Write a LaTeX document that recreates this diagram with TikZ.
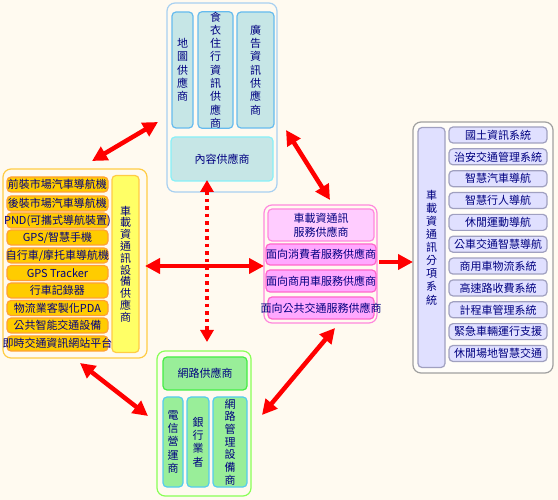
\documentclass[tikz,border=0pt]{standalone}
\usepackage{fontspec}
\setmainfont{Noto Sans CJK TC}
\usetikzlibrary{arrows.meta}
\definecolor{bg}{HTML}{FFFAF0}
\definecolor{txt}{HTML}{000080}
\definecolor{tOut}{HTML}{A8D0F0}
\definecolor{tFill}{HTML}{C6E6E6}
\definecolor{tDraw}{HTML}{66BBEE}
\definecolor{tDraw2}{HTML}{88F0F8}
\definecolor{lOut}{HTML}{FFCC44}
\definecolor{lFill}{HTML}{FFCC00}
\definecolor{lDraw}{HTML}{FFA033}
\definecolor{lvFill}{HTML}{FFFF66}
\definecolor{pOut}{HTML}{FF88DD}
\definecolor{pFillA}{HTML}{FFCCFF}
\definecolor{pFillB}{HTML}{FFA8FF}
\definecolor{pDraw}{HTML}{FF66CC}
\definecolor{rOut}{HTML}{A0A0A0}
\definecolor{rFill}{HTML}{E0E0FF}
\definecolor{rDraw}{HTML}{A0A0C0}
\definecolor{bOut}{HTML}{88FF55}
\definecolor{bFill}{HTML}{99EE99}
\definecolor{bDraw}{HTML}{44EE44}
\definecolor{bDraw2}{HTML}{55CCEE}
\tikzset{
  box/.style={rectangle, rounded corners=4pt, line width=1.2pt, inner sep=0pt, text=txt, align=center,
    font=\fontsize{11pt}{13.3pt}\selectfont},
  outer/.style={rectangle, rounded corners=8pt, line width=1.2pt, inner sep=0pt, fill=bg},
  topbox/.style={box, fill=tFill, draw=tDraw},
  leftitem/.style={box, fill=lFill, draw=lDraw, minimum width=101pt, minimum height=15pt},
  pinkbox/.style={box, fill=pFillB, draw=pDraw, minimum width=106pt},
  rightitem/.style={box, fill=rFill, draw=rDraw, minimum width=98pt, minimum height=16pt},
  botbox/.style={box, fill=bFill, draw=bDraw2},
  bigarrow/.style={draw=red, line width=4.5pt, {Triangle[length=15pt,width=15pt]}-{Triangle[length=15pt,width=15pt]}},
  onearrow/.style={draw=red, line width=4.5pt, -{Triangle[length=15pt,width=15pt]}},
  dotarrow/.style={draw=red, line width=4pt, dash pattern=on 3.5pt off 4pt, {Triangle[length=12pt,width=13pt]}-{Triangle[length=12pt,width=13pt]}}
}
\begin{document}
\begin{tikzpicture}[x=1pt,y=-1pt]
\useasboundingbox[fill=bg] (0,0) rectangle (558,500);

% top group
\node[outer, draw=tOut, minimum width=110pt, minimum height=189pt] (T) at (222,97.5) {};
\node[topbox, minimum width=21pt, minimum height=116pt] (map) at (182.5,70) {地\\圖\\供\\應\\商};
\node[topbox, minimum width=35pt, minimum height=116pt] (food) at (215.5,70) {食\\衣\\住\\行\\資\\訊\\供\\應\\商};
\node[topbox, minimum width=37pt, minimum height=116pt] (ad) at (255.5,70) {廣\\告\\資\\訊\\供\\應\\商};
\node[topbox, draw=tDraw2, minimum width=102pt, minimum height=44pt] (content) at (222,159) {內容供應商};

% left group
\node[outer, draw=lOut, minimum width=144pt, minimum height=189pt] (L) at (75,263.5) {};
\node[box, fill=lvFill, draw=lOut, minimum width=27pt, minimum height=177pt,
  font=\fontsize{11pt}{11.8pt}\selectfont] (dev) at (125.5,264) {車\\載\\資\\通\\訊\\設\\備\\供\\應\\商};
\node[leftitem] (l1) at (57.5,184.5) {前裝市場汽車導航機};
\node[leftitem] (l2) at (57.5,203.5) {後裝市場汽車導航機};
\node[leftitem] (l3) at (57.5,220.5) {\makebox[0pt]{PND(可攜式導航裝置)}};
\node[leftitem] (l4) at (57.5,237.5) {GPS/智慧手機};
\node[leftitem] (l5) at (57.5,255.5) {\makebox[0pt]{自行車/摩托車導航機}};
\node[leftitem] (l6) at (57.5,273) {GPS Tracker};
\node[leftitem] (l7) at (57.5,290.5) {行車記錄器};
\node[leftitem] (l8) at (57.5,308) {物流業客製化PDA};
\node[leftitem] (l9) at (57.5,325.5) {公共智能交通設備};
\node[leftitem] (l10) at (57.5,343.5) {\makebox[0pt]{即時交通資訊網站平台}};

% pink group
\node[outer, draw=pOut, minimum width=113pt, minimum height=118pt] (P) at (320.5,264) {};
\node[pinkbox, fill=pFillA, draw=pOut, minimum height=32pt, font=\fontsize{11pt}{14pt}\selectfont] (svc) at (321,225) {車載資通訊\\服務供應商};
\node[pinkbox, minimum height=21pt] (p2) at (321,254.5) {面向消費者服務供應商};
\node[pinkbox, minimum height=22pt] (p3) at (321,281) {面向商用車服務供應商};
\node[pinkbox, minimum height=22pt] (p4) at (321,308) {\makebox[0pt]{面向公共交通服務供應商}};

% right group
\node[outer, draw=rOut, fill=white!60!bg, minimum width=140pt, minimum height=251pt] (R) at (483,247.5) {};
\node[box, fill=rFill, draw=rDraw, minimum width=27pt, minimum height=240pt,
  font=\fontsize{11pt}{13.1pt}\selectfont] (sub) at (431.5,247.5) {車\\載\\資\\通\\訊\\分\\項\\系\\統};
\node[rightitem] (r1) at (498,135) {國土資訊系統};
\node[rightitem] (r2) at (498,156.85) {治安交通管理系統};
\node[rightitem] (r3) at (498,178.7) {智慧汽車導航};
\node[rightitem] (r4) at (498,200.55) {智慧行人導航};
\node[rightitem] (r5) at (498,222.4) {休閒運動導航};
\node[rightitem] (r6) at (498,244.25) {公車交通智慧導航};
\node[rightitem] (r7) at (498,266.1) {商用車物流系統};
\node[rightitem] (r8) at (498,287.95) {高速路收費系統};
\node[rightitem] (r9) at (498,309.8) {計程車管理系統};
\node[rightitem] (r10) at (498,331.65) {緊急車輛運行支援};
\node[rightitem] (r11) at (498,353.5) {休閒場地智慧交通};

% bottom group
\node[outer, draw=bOut, minimum width=94pt, minimum height=145pt] (B) at (204,423.5) {};
\node[box, fill=bFill, draw=bDraw, minimum width=84pt, minimum height=33pt] (net) at (205,373.5) {網路供應商};
\node[botbox, minimum width=20pt, minimum height=90pt] (tel) at (173,442) {電\\信\\營\\運\\商};
\node[botbox, minimum width=22pt, minimum height=90pt] (bank) at (198,442) {銀\\行\\業\\者};
\node[botbox, minimum width=34pt, minimum height=90pt, font=\fontsize{11pt}{12.7pt}\selectfont] (mgmt) at (230,442) {網\\路\\管\\理\\設\\備\\商};

% arrow end points
\coordinate (a1s) at (92,161);  \coordinate (a1e) at (158,122);
\coordinate (a2s) at (286,130); \coordinate (a2e) at (330,200);
\coordinate (a3s) at (145,266); \coordinate (a3e) at (264,266);
\coordinate (a4s) at (207,180); \coordinate (a4e) at (207,342);
\coordinate (a5s) at (379,262); \coordinate (a5e) at (413,262);
\coordinate (a6s) at (80,363);  \coordinate (a6e) at (148,416);
\coordinate (a7s) at (335,328); \coordinate (a7e) at (262,415);

\draw[dotarrow] (a4s) -- (a4e);
\draw[bigarrow] (a1s) -- (a1e);
\draw[bigarrow] (a2s) -- (a2e);
\draw[bigarrow] (a3s) -- (a3e);
\draw[onearrow] (a5s) -- (a5e);
\draw[bigarrow] (a6s) -- (a6e);
\draw[bigarrow] (a7s) -- (a7e);
\end{tikzpicture}
\end{document}
